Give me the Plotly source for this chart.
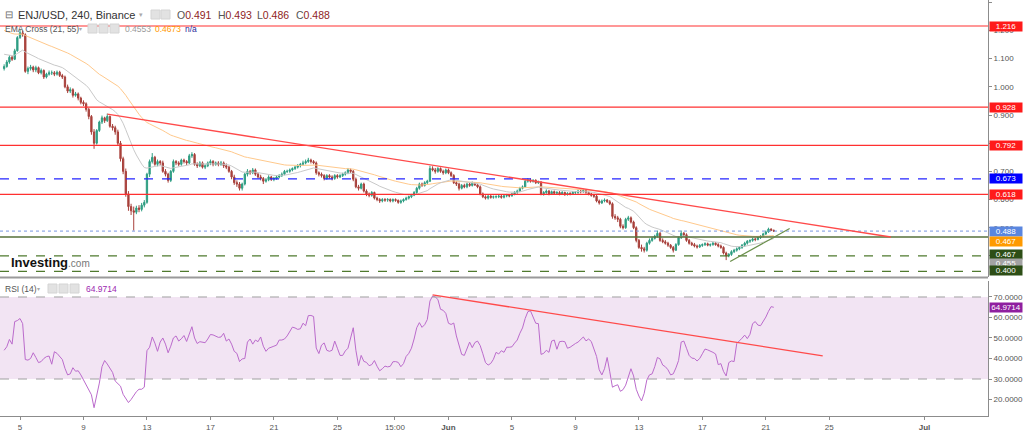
import pandas as pd
import plotly.graph_objects as go

# ------------------------------------------------------------------ data
first_open = 1.065
close = [
 1.072,1.088,1.105,1.098,1.128,1.175,
 1.192,1.185,1.055,1.065,1.070,1.060,
 1.068,1.050,1.058,1.035,1.045,1.050,
 1.050,1.045,1.052,1.040,1.035,1.000,
 0.985,0.990,0.970,0.975,0.960,0.945,
 0.940,0.920,0.895,0.840,0.800,0.845,
 0.875,0.890,0.880,0.895,0.860,0.855,
 0.840,0.800,0.745,0.700,0.620,0.575,
 0.560,0.555,0.570,0.565,0.580,0.590,
 0.690,0.735,0.750,0.725,0.735,0.730,
 0.700,0.690,0.668,0.700,0.735,0.730,
 0.725,0.740,0.735,0.730,0.755,0.760,
 0.725,0.720,0.730,0.715,0.720,0.730,
 0.735,0.725,0.730,0.725,0.730,0.720,
 0.715,0.700,0.680,0.660,0.655,0.640,
 0.655,0.690,0.700,0.695,0.705,0.690,
 0.680,0.675,0.665,0.670,0.680,0.672,
 0.675,0.680,0.685,0.690,0.700,0.700,
 0.705,0.710,0.715,0.720,0.725,0.730,
 0.735,0.740,0.735,0.730,0.695,0.690,
 0.685,0.675,0.685,0.680,0.675,0.685,
 0.680,0.685,0.690,0.695,0.705,0.700,
 0.672,0.645,0.640,0.655,0.630,0.620,
 0.615,0.625,0.605,0.600,0.595,0.600,
 0.598,0.600,0.595,0.600,0.597,0.590,
 0.595,0.600,0.605,0.610,0.615,0.625,
 0.640,0.655,0.650,0.660,0.665,0.710,
 0.705,0.700,0.710,0.700,0.695,0.705,
 0.695,0.685,0.660,0.655,0.640,0.650,
 0.645,0.655,0.650,0.658,0.652,0.645,
 0.620,0.610,0.605,0.612,0.608,0.610,
 0.610,0.612,0.608,0.613,0.615,0.613,
 0.620,0.625,0.630,0.640,0.645,0.665,
 0.670,0.665,0.668,0.660,0.662,0.620,
 0.625,0.630,0.620,0.628,0.622,0.625,
 0.620,0.625,0.618,0.622,0.620,0.625,
 0.625,0.630,0.628,0.632,0.625,0.620,
 0.615,0.612,0.595,0.588,0.595,0.598,
 0.592,0.585,0.540,0.535,0.530,0.505,
 0.500,0.530,0.535,0.520,0.500,0.455,
 0.430,0.425,0.420,0.445,0.455,0.462,
 0.470,0.480,0.455,0.450,0.445,0.438,
 0.430,0.420,0.440,0.465,0.480,0.475,
 0.455,0.445,0.440,0.435,0.432,0.437,
 0.440,0.443,0.438,0.440,0.445,0.440,
 0.435,0.430,0.410,0.400,0.405,0.415,
 0.420,0.425,0.430,0.438,0.445,0.452,
 0.455,0.460,0.458,0.465,0.470,0.478,
 0.485,0.495,0.491,0.488,
]
high = [
 1.080,1.095,1.112,1.110,1.135,1.180,
 1.205,1.200,1.190,1.072,1.078,1.075,
 1.075,1.072,1.065,1.062,1.050,1.058,
 1.058,1.056,1.058,1.057,1.046,1.040,
 1.008,0.998,0.995,0.982,0.980,0.965,
 0.952,0.945,0.925,0.900,0.850,0.850,
 0.880,0.898,0.894,0.905,0.898,0.868,
 0.862,0.848,0.808,0.752,0.710,0.630,
 0.585,0.575,0.578,0.580,0.588,0.598,
 0.695,0.742,0.765,0.755,0.742,0.740,
 0.738,0.708,0.695,0.705,0.742,0.740,
 0.736,0.745,0.745,0.740,0.762,0.768,
 0.765,0.732,0.736,0.735,0.725,0.735,
 0.742,0.740,0.735,0.736,0.737,0.735,
 0.728,0.720,0.705,0.688,0.668,0.662,
 0.660,0.695,0.708,0.705,0.712,0.710,
 0.695,0.688,0.680,0.676,0.686,0.684,
 0.680,0.686,0.690,0.696,0.705,0.706,
 0.710,0.714,0.720,0.726,0.730,0.738,
 0.742,0.748,0.745,0.740,0.735,0.700,
 0.696,0.690,0.690,0.690,0.686,0.690,
 0.690,0.690,0.695,0.700,0.712,0.710,
 0.705,0.678,0.652,0.660,0.660,0.636,
 0.625,0.630,0.628,0.610,0.605,0.605,
 0.605,0.605,0.604,0.604,0.604,0.600,
 0.600,0.604,0.610,0.614,0.620,0.630,
 0.645,0.660,0.660,0.665,0.670,0.720,
 0.718,0.712,0.715,0.714,0.706,0.710,
 0.710,0.700,0.690,0.666,0.660,0.655,
 0.656,0.660,0.660,0.664,0.662,0.656,
 0.650,0.625,0.615,0.616,0.616,0.614,
 0.615,0.616,0.616,0.617,0.620,0.619,
 0.624,0.630,0.635,0.645,0.650,0.672,
 0.676,0.675,0.672,0.672,0.667,0.665,
 0.630,0.636,0.634,0.632,0.632,0.630,
 0.630,0.630,0.628,0.626,0.626,0.630,
 0.630,0.636,0.634,0.638,0.636,0.628,
 0.624,0.620,0.616,0.600,0.600,0.604,
 0.602,0.598,0.590,0.548,0.542,0.535,
 0.512,0.535,0.542,0.540,0.525,0.505,
 0.460,0.440,0.432,0.450,0.462,0.468,
 0.475,0.490,0.485,0.462,0.456,0.450,
 0.442,0.435,0.445,0.470,0.490,0.485,
 0.480,0.460,0.450,0.446,0.440,0.442,
 0.444,0.448,0.447,0.444,0.450,0.449,
 0.445,0.440,0.434,0.415,0.410,0.420,
 0.425,0.430,0.435,0.442,0.450,0.456,
 0.458,0.464,0.464,0.468,0.474,0.482,
 0.490,0.500,0.498,0.493,
]
low = [
 1.058,1.068,1.082,1.092,1.095,1.125,
 1.170,1.178,1.050,1.045,1.058,1.052,
 1.052,1.045,1.044,1.028,1.030,1.040,
 1.042,1.038,1.040,1.035,1.028,0.995,
 0.978,0.978,0.962,0.965,0.952,0.938,
 0.932,0.912,0.885,0.830,0.780,0.795,
 0.840,0.868,0.872,0.875,0.855,0.845,
 0.830,0.792,0.735,0.690,0.610,0.560,
 0.545,0.490,0.548,0.555,0.558,0.572,
 0.585,0.680,0.728,0.720,0.718,0.722,
 0.695,0.682,0.660,0.662,0.695,0.722,
 0.718,0.720,0.728,0.722,0.726,0.748,
 0.720,0.712,0.715,0.710,0.708,0.715,
 0.722,0.718,0.720,0.718,0.720,0.712,
 0.708,0.695,0.672,0.652,0.645,0.632,
 0.632,0.650,0.682,0.688,0.690,0.684,
 0.675,0.668,0.655,0.660,0.665,0.666,
 0.665,0.670,0.675,0.680,0.686,0.694,
 0.695,0.700,0.705,0.710,0.714,0.720,
 0.725,0.730,0.728,0.725,0.688,0.682,
 0.678,0.668,0.670,0.674,0.668,0.670,
 0.674,0.676,0.680,0.685,0.690,0.694,
 0.665,0.640,0.632,0.636,0.625,0.612,
 0.608,0.610,0.600,0.594,0.588,0.590,
 0.592,0.592,0.590,0.590,0.592,0.585,
 0.585,0.590,0.596,0.600,0.605,0.612,
 0.620,0.635,0.645,0.646,0.655,0.662,
 0.700,0.692,0.695,0.695,0.688,0.690,
 0.690,0.680,0.655,0.648,0.632,0.636,
 0.640,0.640,0.645,0.646,0.648,0.640,
 0.615,0.605,0.600,0.600,0.603,0.603,
 0.604,0.605,0.603,0.604,0.608,0.608,
 0.610,0.615,0.620,0.626,0.636,0.642,
 0.660,0.660,0.660,0.655,0.655,0.615,
 0.614,0.620,0.615,0.616,0.618,0.617,
 0.615,0.616,0.613,0.614,0.615,0.616,
 0.619,0.620,0.622,0.624,0.620,0.615,
 0.610,0.606,0.590,0.582,0.584,0.590,
 0.588,0.580,0.532,0.528,0.520,0.498,
 0.494,0.496,0.524,0.515,0.495,0.448,
 0.425,0.415,0.412,0.415,0.440,0.450,
 0.458,0.465,0.450,0.445,0.440,0.432,
 0.425,0.412,0.418,0.436,0.460,0.468,
 0.450,0.440,0.435,0.430,0.426,0.428,
 0.432,0.435,0.434,0.433,0.436,0.436,
 0.430,0.425,0.405,0.385,0.395,0.400,
 0.410,0.415,0.420,0.425,0.432,0.440,
 0.446,0.450,0.452,0.455,0.460,0.466,
 0.474,0.482,0.488,0.486,
]
rsi = [
 44,45.7,49.3,47,58,58.5,
 59.5,57,39.5,39.2,40,42.8,
 40.5,38,38.5,40,40.9,41.2,
 37.2,43.3,42.5,41.2,39.5,35.2,
 32,32.5,35.5,33.8,34,32,
 29.5,26.5,24.5,22.3,16,22,
 28,36,39,37.3,35.2,33.2,
 29,27.5,26.5,22.5,20.5,18.5,
 20,22,23.8,25,25,26,
 43.8,45.5,50.5,47.5,43.5,48,
 50,47,42.8,46,50,51,
 48.5,49.6,51.2,48.3,52,55.5,
 50,47.3,48.2,48,47.7,49.5,
 51.7,51.5,51,50.3,50.5,52.3,
 48.5,49.5,47,43.5,42.5,38.5,
 39.8,40,48,49.5,47,49,
 48.2,50.5,46,43.5,45,45.7,
 46,46.5,49,49,49.5,51,
 53.5,55.3,54.9,54.2,54.5,57.2,
 56,60.9,61,60.5,45.1,42.4,
 46.5,47.6,44,43.5,44,48.5,
 45,41.5,41.5,43.7,45,49.5,
 55,44,36.5,41.5,38.6,38.1,
 36.5,37,39,36.2,34,35,
 36.3,35.9,36.2,38.4,38.5,38.1,
 36,37.5,41,42.5,45,49.5,
 55,57.5,55.2,56.5,59,68,
 70.5,70,68.8,64,63.5,62,
 57.2,56.6,57.3,51,46.5,42,
 41.5,45,48,45.3,47.8,48.5,
 46.3,42.3,38,36.8,37.6,39.6,
 43,42.2,43.8,43,45.5,45.5,
 45.7,47.5,49,52.3,54.9,59.5,
 62.8,63.3,59.8,57.2,57,42,
 42.5,44,43,48.5,49,44.5,
 48.2,48.4,48.2,45,45.5,46.6,
 47.3,48,49.3,50.5,48.6,49.5,
 48.3,45,41,34.5,32,35,
 40.5,33.5,26,26.7,27.2,24,
 24.8,27,31,35,31.5,25,
 21.7,19.3,23,29.5,32,32.5,
 36,40.5,39.8,36.8,36,34.5,
 32,32.5,35.4,39,48,48.5,
 45,41.5,40.2,40,38.8,40,
 42.3,44.6,44.2,43.7,43,42.2,
 37,37.5,33.7,31.5,38,38.8,
 38.5,47.3,48.5,49.9,51.4,49.7,
 51.8,57,58,56.3,56,58,
 60.2,63,65.3,64.97,
]
ema21_seed = 1.12
ema55_seed = 1.205

red_levels = [1.216, 0.928, 0.792, 0.618]
blue_dash_level = 0.673
last_price = 0.488
green_level = 0.467
green_dash_levels = [0.400, 0.345]

res_t = ["2022-05-10 12:00", "2022-06-28 21:00"]
res_v = [0.903, 0.467]
sup_t = ["2022-06-18 18:00", "2022-06-22 12:00"]
sup_v = [0.380, 0.497]
rsi_line_t = ["2022-05-31 00:00", "2022-06-24 14:00"]
rsi_line_v = [71.0, 41.3]

tick_dates = ["2022-05-05", "2022-05-09", "2022-05-13", "2022-05-17", "2022-05-21",
              "2022-05-25", "2022-05-28 15:00", "2022-06-01", "2022-06-05", "2022-06-09",
              "2022-06-13", "2022-06-17", "2022-06-21", "2022-06-25", "2022-07-01"]
tick_text = ["5", "9", "13", "17", "21", "25", "15:00", "<b>Jun</b>", "5", "9",
             "13", "17", "21", "25", "<b>Jul</b>"]

ohlc_header = [("O", "0.491"), ("H", "0.493"), ("L", "0.486"), ("C", "0.488")]
ema21_last, ema55_last = 0.4553, 0.4673
rsi_last = 64.9714

# ------------------------------------------------------------------ derived
time = pd.date_range("2022-05-04 00:00", periods=len(close), freq="4h")
opens = [first_open] + close[:-1]


def ema(values, seed, n):
    a = 2.0 / (n + 1)
    out, p = [], seed
    for v in values:
        p = p + a * (v - p)
        out.append(p)
    return out


ema21 = ema(close, ema21_seed, 21)
ema55 = ema(close, ema55_seed, 55)

# ------------------------------------------------------------------ layout helpers
PW, PH = 988.0, 416.0
def pxx(x): return x / PW
def pyy(y): return 1 - y / PH

FONT = "Liberation Sans, Arial, sans-serif"
UP, DOWN = "#2f9e83", "#a8403b"
RED = "#ff3030"

fig = go.Figure()
fig.add_trace(go.Scatter(x=time, y=ema55, mode="lines", line=dict(color="#ffc98c", width=1),
                         hoverinfo="skip"))
fig.add_trace(go.Scatter(x=time, y=ema21, mode="lines", line=dict(color="#c9c9c9", width=1),
                         hoverinfo="skip"))
fig.add_trace(go.Candlestick(
    x=time, open=opens, high=high, low=low, close=close,
    increasing=dict(line=dict(color=UP, width=1), fillcolor=UP),
    decreasing=dict(line=dict(color=DOWN, width=1), fillcolor=DOWN),
    whiskerwidth=0, hoverinfo="skip"))
fig.add_trace(go.Scatter(x=time, y=rsi, mode="lines", yaxis="y2",
                         line=dict(color="#bb6bcc", width=1), hoverinfo="skip"))

shapes = []
shapes.append(dict(type="rect", xref="paper", yref="y2", x0=0, x1=1, y0=30, y1=70,
                   fillcolor="#f2e4f3", line=dict(width=0), layer="below"))
for lv in (70, 30):
    shapes.append(dict(type="line", xref="paper", yref="y2", x0=0, x1=1, y0=lv, y1=lv,
                       line=dict(color="#a0a0a0", width=1, dash="dash")))
for lv in red_levels:
    shapes.append(dict(type="line", xref="paper", yref="y", x0=0, x1=1, y0=lv, y1=lv,
                       line=dict(color=RED, width=1.2)))
shapes.append(dict(type="line", xref="paper", yref="y", x0=0, x1=1,
                   y0=blue_dash_level, y1=blue_dash_level,
                   line=dict(color="#2424ff", width=1.2, dash="dash")))
shapes.append(dict(type="line", xref="paper", yref="y", x0=0, x1=1,
                   y0=last_price, y1=last_price,
                   line=dict(color="#7896e0", width=1, dash="dot")))
shapes.append(dict(type="line", xref="paper", yref="y", x0=0, x1=1,
                   y0=green_level, y1=green_level,
                   line=dict(color="#56703a", width=1.3)))
for lv in green_dash_levels:
    shapes.append(dict(type="line", xref="paper", yref="y", x0=0, x1=1, y0=lv, y1=lv,
                       line=dict(color="#4f7a2e", width=1.2, dash="dash")))
shapes.append(dict(type="line", xref="x", yref="y", x0=res_t[0], x1=res_t[1],
                   y0=res_v[0], y1=res_v[1], line=dict(color="#ff4a4a", width=1.3)))
shapes.append(dict(type="line", xref="x", yref="y", x0=sup_t[0], x1=sup_t[1],
                   y0=sup_v[0], y1=sup_v[1], line=dict(color="#6a8f4a", width=1.2)))
shapes.append(dict(type="line", xref="x", yref="y2", x0=rsi_line_t[0], x1=rsi_line_t[1],
                   y0=rsi_line_v[0], y1=rsi_line_v[1], line=dict(color="#ff4a4a", width=1.3)))
shapes.append(dict(type="line", xref="paper", yref="paper", x0=0, x1=1,
                   y0=pyy(277.5), y1=pyy(277.5), line=dict(color="#9a9a9a", width=2)))
for (x0, y0) in [(151, 10), (161, 10), (88, 24), (99, 24), (110, 24), (48, 284), (59, 284), (70, 284)]:
    shapes.append(dict(type="rect", xref="paper", yref="paper",
                       x0=pxx(x0), x1=pxx(x0 + 9), y0=pyy(y0), y1=pyy(y0 + 9),
                       fillcolor="#e2e2e2", line=dict(color="#d4d4d4", width=1)))

ann = []
def label(text, yval, color, yshift=0, yref="y"):
    ann.append(dict(text=text, xref="paper", yref=yref, x=1, y=yval, xanchor="left",
                    yanchor="middle", xshift=1, yshift=yshift, showarrow=False,
                    bgcolor=color, font=dict(color="white", size=8, family=FONT),
                    width=32, height=9, borderpad=0))

for lv in red_levels:
    label(f"{lv:.3f}", lv, "#ff1a1a")
label(f"{blue_dash_level:.3f}", blue_dash_level, "#0000ff")
label(f"{last_price:.3f}", last_price, "#5a86df")
label(f"{ema55_last:.3f}", ema55_last, "#ff9a00", -5)
label(f"{green_level:.3f}", green_level, "#2d4e16", -17)
label(f"{ema21_last:.3f}", ema21_last, "#a3a3a3", -23)
label(f"{green_dash_levels[0]:.3f}", green_dash_levels[0], "#2d4e16", -15)
label(f"{rsi_last:.4f}", rsi_last, "#8f1f9f", 0, "y2")

def text(t, x, y, size, color, bold=False):
    ann.append(dict(text=(f"<b>{t}</b>" if bold else t), xref="paper", yref="paper",
                    x=pxx(x), y=pyy(y), xanchor="left", yanchor="middle", showarrow=False,
                    font=dict(size=size, color=color, family=FONT), borderpad=0))

text("⊟", 4, 15, 10, "#666")
text("ENJ/USD, 240, Binance", 17, 15, 11, "#333")
text("▾", 138, 15, 7, "#aaa")
for (k, v), x in zip(ohlc_header, [176, 217, 256, 295]):
    text(f"{k}<span style='color:#8f2424'>{v}</span>", x, 15, 10.5, "#555")
text("EMA Cross (21, 55)", 4, 29, 8.5, "#555")
text("▾", 78, 29, 6, "#aaa")
text(f"{ema21_last:.4f}", 124, 29, 8.5, "#9a9a9a")
text(f"{ema55_last:.4f}", 154, 29, 8.5, "#ff9800")
text("n/a", 184, 29, 8.5, "#2a2a9a")
text("RSI (14)", 4, 288.5, 8.5, "#555")
text("▾", 36, 288.5, 6, "#aaa")
text(f"{rsi_last:.4f}", 85, 288.5, 8.5, "#9c27b0")
ann.append(dict(text="<b>Investing</b><span style='font-size:10px;color:#777'>.com</span>",
                xref="paper", yref="paper", x=pxx(10), y=pyy(262), xanchor="left",
                yanchor="middle", showarrow=False,
                font=dict(size=13, color="#111", family=FONT), borderpad=0))

axis_common = dict(showgrid=False, zeroline=False, showline=True, linecolor="#8c8c8c",
                   ticks="outside", ticklen=3, tickcolor="#8c8c8c",
                   tickfont=dict(size=8, color="#555", family=FONT), fixedrange=True)

fig.update_layout(
    width=1024, height=431, margin=dict(l=0, r=36, t=0, b=15),
    paper_bgcolor="white", plot_bgcolor="white", showlegend=False,
    font=dict(family=FONT), shapes=shapes, annotations=ann,
    xaxis=dict(type="date", range=["2022-05-03 17:45", "2022-07-05 00:00"],
               anchor="y2", tickvals=tick_dates, ticktext=tick_text,
               rangeslider=dict(visible=False), **axis_common),
    yaxis=dict(domain=[pyy(277), 1], side="right", anchor="x", range=[0.325, 1.3083],
               dtick=0.1, tick0=0, tickformat=".3f", **axis_common),
    yaxis2=dict(domain=[0, pyy(281)], side="right", anchor="x", range=[11.95, 77.8],
                tickvals=[20, 30, 40, 50, 60, 70], tickformat=".4f", **axis_common),
)

fig.write_html("out.html", config={"displayModeBar": False},
               post_script="document.body.style.margin='0px';document.body.style.overflow='hidden';")
